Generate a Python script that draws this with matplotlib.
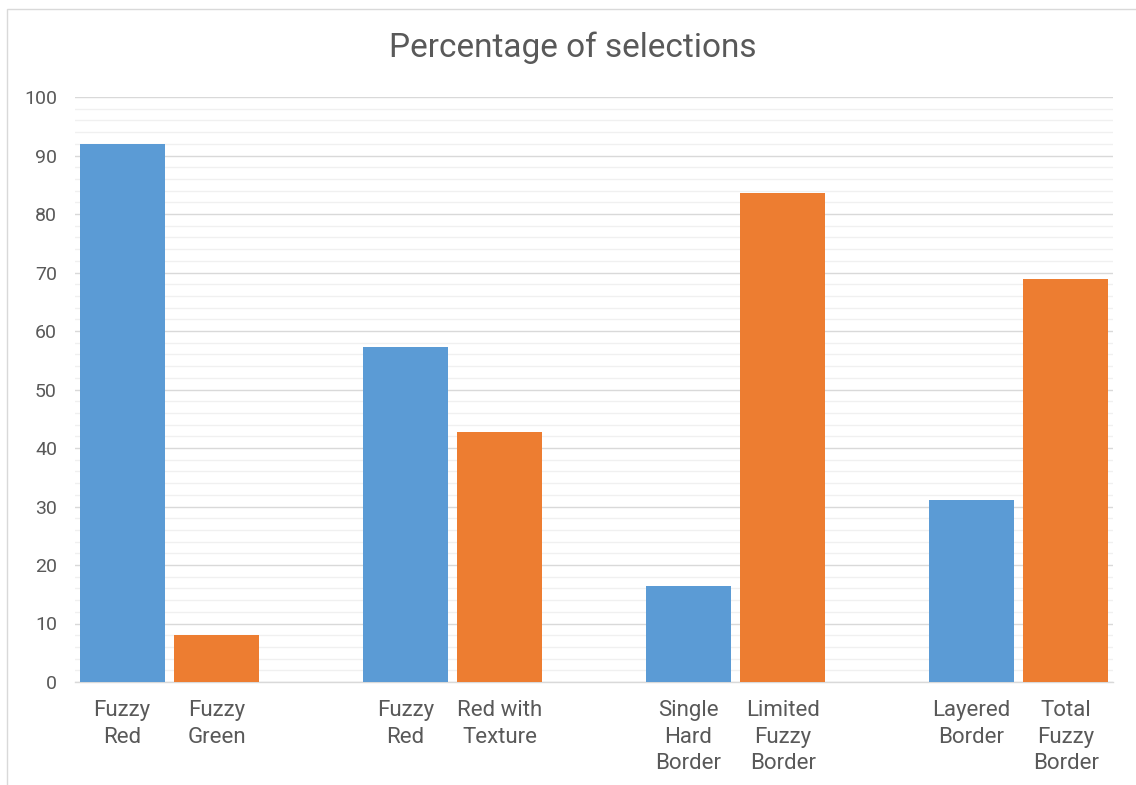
import matplotlib
matplotlib.use("Agg")
import matplotlib.pyplot as plt
from matplotlib.patches import Rectangle
from matplotlib.ticker import MultipleLocator

# Category labels (pairs of alternatives) and their selection percentages
labels = ["Fuzzy\nRed", "Fuzzy\nGreen",
          "Fuzzy\nRed", "Red with\nTexture",
          "Single\nHard\nBorder", "Limited\nFuzzy\nBorder",
          "Layered\nBorder", "Total\nFuzzy\nBorder"]
values = [92.0, 8.0, 57.3, 42.7, 16.4, 83.6, 31.1, 68.9]
series_colors = ["#5B9BD5", "#ED7D31"]

plt.rcParams["font.family"] = ["Roboto", "DejaVu Sans"]
text_color = "#595959"

fig = plt.figure(figsize=(11.36, 7.85), dpi=100)
W, H = 1136, 785
ax = fig.add_axes([75 / W, 1 - 682 / H, (1113 - 75) / W, (682 - 97) / H])

# Each pair sits in two adjacent slots, with one empty slot between pairs
positions = [3 * (i // 2) + (i % 2) for i in range(len(values))]
colors = [series_colors[i % 2] for i in range(len(values))]
ax.bar(positions, values, width=0.9, color=colors, zorder=3)

ax.set_xlim(-0.5, 10.5)
ax.set_ylim(0, 100)
ax.yaxis.set_major_locator(MultipleLocator(10))
ax.yaxis.set_minor_locator(MultipleLocator(2))
ax.grid(which="major", axis="y", color="#D9D9D9", linewidth=1.0, zorder=0)
ax.grid(which="minor", axis="y", color="#F0F0F0", linewidth=1.0, zorder=0)

for side in ["top", "right", "left"]:
    ax.spines[side].set_visible(False)
ax.spines["bottom"].set_color("#D9D9D9")
ax.spines["bottom"].set_linewidth(1.0)

ax.set_xticks(positions)
ax.set_xticklabels(labels, fontsize=16, color=text_color, linespacing=1.35)
ax.tick_params(axis="x", length=0, pad=13)
ax.tick_params(axis="y", which="both", length=0, pad=13, labelsize=14,
               labelcolor=text_color)

fig.text(573 / W, 1 - 48 / H, "Percentage of selections",
         ha="center", va="center", fontsize=24, color=text_color)

# Light chart-area frame
fig.patches.append(Rectangle((7 / W, -0.05), 1.2, 1 - 9 / H + 0.05,
                             transform=fig.transFigure, fill=False,
                             edgecolor="#D9D9D9", linewidth=1.0))

fig.savefig("out.png", dpi=100)
